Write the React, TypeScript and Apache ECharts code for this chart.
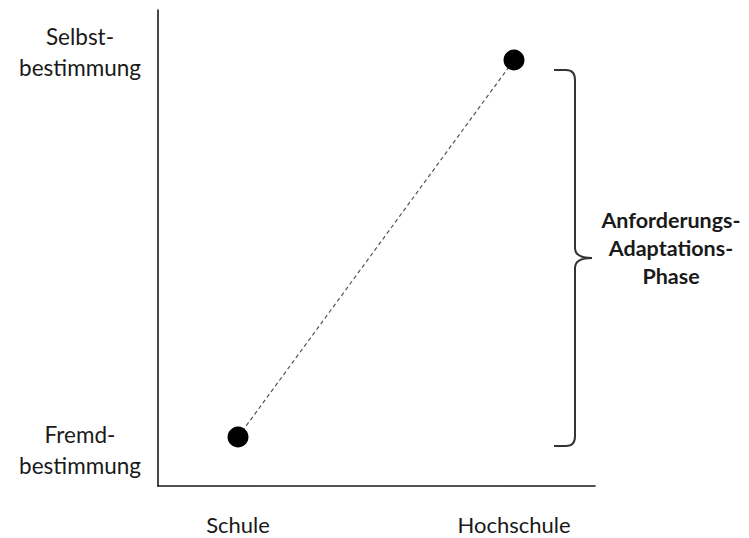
import React, { useEffect, useRef } from "react";
import * as echarts from "echarts";

const categories = ["Schule", "Hochschule"];
const xValues = [0, 1];
const yValues = [0, 1];
const yTickValues = [-0.035, 1.02];
const yTickLabels = ["Fremd-\nbestimmung", "Selbst-\nbestimmung"];
const braceLabel = "Anforderungs-\nAdaptations-\nPhase";

const FONT = "Lato";

const bracePath =
  "M 554 70 L 566 70 Q 575 70 575 80 L 575 248 Q 575 258 592 258 Q 575 258 575 268 L 575 436 Q 575 446 566 446 L 554 446";

echarts.graphic.registerShape(
  "brace",
  (echarts.graphic as any).extendPath(bracePath, {})
);

export default function App() {
  const ref = useRef<HTMLDivElement>(null);
  useEffect(() => {
    if (!ref.current) return;
    const chart = echarts.init(ref.current, undefined, { renderer: "svg" });
    const points = xValues.map((x, i) => [x, yValues[i]]);
    chart.setOption({
      animation: false,
      backgroundColor: "#ffffff",
      grid: { left: 158, right: 154, top: 10, bottom: 52 },
      xAxis: {
        type: "value",
        min: -0.2899,
        max: 1.2935,
        splitLine: { show: false },
        axisTick: { show: false },
        axisLine: {
          show: true,
          onZero: false,
          lineStyle: { color: "#1a1a1a", width: 1.6 },
        },
        axisLabel: {
          customValues: xValues,
          formatter: (v: number) => {
            const i = xValues.indexOf(Math.round(v));
            return i >= 0 ? categories[i] : "";
          },
          margin: 27,
          fontFamily: FONT,
          fontSize: 22,
          color: "#1a1a1a",
        },
      },
      yAxis: {
        type: "value",
        min: -0.13,
        max: 1.1326,
        splitLine: { show: false },
        axisTick: { show: false },
        axisLine: {
          show: true,
          onZero: false,
          lineStyle: { color: "#1a1a1a", width: 1.6 },
        },
        axisLabel: {
          customValues: yTickValues,
          formatter: (v: number) => {
            let best = 0;
            yTickValues.forEach((t, i) => {
              if (Math.abs(t - v) < Math.abs(yTickValues[best] - v)) best = i;
            });
            return yTickLabels[best];
          },
          align: "center",
          margin: 78,
          lineHeight: 31,
          fontFamily: FONT,
          fontSize: 22.5,
          color: "#1a1a1a",
        },
      },
      series: [
        {
          type: "line",
          data: points,
          symbol: "circle",
          symbolSize: 21,
          itemStyle: { color: "#000000" },
          lineStyle: { color: "#555555", width: 1.2, type: [4, 3] },
        },
      ],
      graphic: [
        {
          type: "brace",
          x: 0,
          y: 0,
          style: { fill: "none", stroke: "#333333", lineWidth: 2 },
        },
        {
          type: "text",
          x: 671,
          y: 248,
          style: {
            text: braceLabel,
            fontFamily: FONT,
            fontWeight: "bold",
            fontSize: 21.5,
            lineHeight: 28,
            fill: "#1a1a1a",
            align: "center",
            verticalAlign: "middle",
          },
        },
      ],
    });
    return () => chart.dispose();
  }, []);
  return (
    <div
      ref={ref}
      style={{ position: "fixed", left: 0, top: 0, width: 749, height: 538 }}
    />
  );
}
